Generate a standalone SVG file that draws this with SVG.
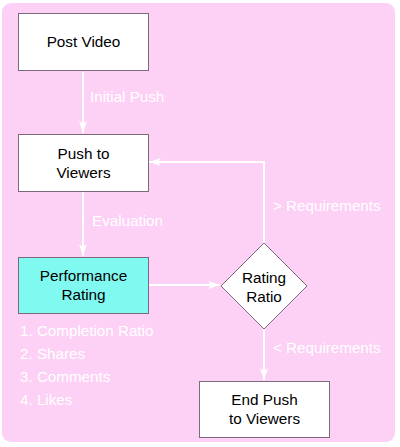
<svg xmlns="http://www.w3.org/2000/svg" width="400" height="447" viewBox="0 0 400 447">
<style>
.node{fill:#fff;stroke:#7a6a7c;stroke-width:1}
.lbl{font-family:"Liberation Sans",Arial,sans-serif;font-size:15.3px;fill:#000;text-anchor:middle}
.edge{stroke:#fff;stroke-width:2;fill:none}
.el{font-family:"Liberation Sans",Arial,sans-serif;font-size:15.2px;fill:#fff}
</style>
<defs>
<marker id="ah" viewBox="0 0 12 8" refX="12" refY="4" markerWidth="12" markerHeight="8" markerUnits="userSpaceOnUse" orient="auto">
<path d="M0,0 L12,4 L0,8 L3,4 Z" fill="#fff"/>
</marker>
</defs>
<rect x="2" y="3" width="393" height="439" rx="9" fill="#fdd1f6"/>
<g id="connectors">
<line class="edge" x1="83" y1="72" x2="83" y2="133" marker-end="url(#ah)"/>
<text class="el" x="90" y="102">Initial Push</text>
<line class="edge" x1="83" y1="192" x2="83" y2="256" marker-end="url(#ah)"/>
<text class="el" x="92" y="226">Evaluation</text>
<line class="edge" x1="149" y1="285" x2="220" y2="285" marker-end="url(#ah)"/>
<polyline class="edge" points="264,243 264,162 149,162" marker-end="url(#ah)"/>
<text class="el" x="273" y="211">&gt; Requirements</text>
<line class="edge" x1="264" y1="328" x2="264" y2="380" marker-end="url(#ah)"/>
<text class="el" x="273" y="353">&lt; Requirements</text>
</g>
<g id="post-video">
<rect class="node" x="18.5" y="13.5" width="130" height="57"/>
<text class="lbl" x="83.5" y="47">Post Video</text>
</g>
<g id="push-to-viewers">
<rect class="node" x="18.5" y="134.5" width="130" height="57"/>
<text class="lbl" x="83.5" y="159">Push to</text>
<text class="lbl" x="83.5" y="178">Viewers</text>
</g>
<g id="performance-rating">
<rect class="node" x="18.5" y="257.5" width="130" height="56" style="fill:#80f9f1"/>
<text class="lbl" x="83.5" y="281">Performance</text>
<text class="lbl" x="83.5" y="300">Rating</text>
</g>
<g id="rating-ratio">
<polygon class="node" points="264,243 307,286 264,329 221,286"/>
<text class="lbl" x="264" y="283">Rating</text>
<text class="lbl" x="264" y="302">Ratio</text>
</g>
<g id="end-push">
<rect class="node" x="199.5" y="381.5" width="130" height="56"/>
<text class="lbl" x="264.5" y="405">End Push</text>
<text class="lbl" x="264.5" y="424">to Viewers</text>
</g>
<g id="criteria">
<text class="el" x="20" y="336">1. Completion Ratio</text>
<text class="el" x="20" y="359">2. Shares</text>
<text class="el" x="20" y="382">3. Comments</text>
<text class="el" x="20" y="405">4. Likes</text>
</g>
</svg>
